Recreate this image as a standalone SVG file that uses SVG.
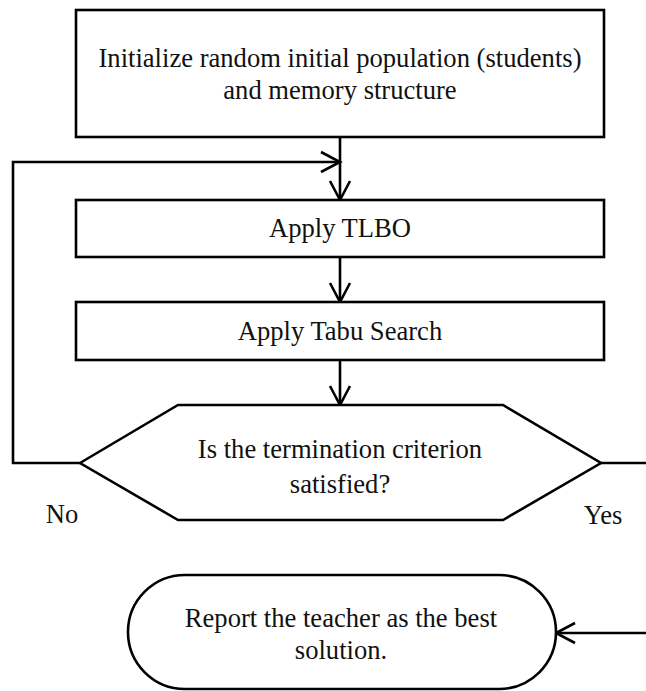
<svg xmlns="http://www.w3.org/2000/svg" width="646" height="691" viewBox="0 0 646 691">
  <style>
    .box { fill: #ffffff; stroke: #000000; stroke-width: 2.6; }
    .link { fill: none; stroke: #000000; stroke-width: 2.6; }
    .label { font-family: "Liberation Serif", "Times New Roman", serif; font-size: 26.6px; fill: #111111; text-anchor: middle; }
  </style>
  <defs>
    <marker id="open-arrow" viewBox="-21 -12 24 24" markerWidth="24" markerHeight="24" refX="0" refY="0" markerUnits="userSpaceOnUse" orient="auto">
      <path d="M -19,-10 L 0,0 L -19,10" fill="none" stroke="#000000" stroke-width="2.6"/>
    </marker>
  </defs>
  <rect width="646" height="691" fill="#ffffff"/>

  <g id="connectors">
    <!-- init -> TLBO -->
    <path class="link" d="M 340,137 L 340,200" marker-end="url(#open-arrow)"/>
    <!-- loop back from decision (No) -->
    <path class="link" d="M 80,463 L 13,463 L 13,162 L 340,162" marker-end="url(#open-arrow)"/>
    <!-- TLBO -> Tabu Search -->
    <path class="link" d="M 340,257 L 340,302" marker-end="url(#open-arrow)"/>
    <!-- Tabu Search -> decision -->
    <path class="link" d="M 340,360 L 340,405" marker-end="url(#open-arrow)"/>
    <!-- decision (Yes) -> report -->
    <path class="link" d="M 601,463 L 652,463 L 652,633 L 556,633" marker-end="url(#open-arrow)"/>
  </g>

  <g id="init">
    <rect class="box" x="76" y="10" width="528" height="127"/>
    <text class="label" x="340" y="67">Initialize random initial population (students)</text>
    <text class="label" x="340" y="99">and memory structure</text>
  </g>

  <g id="tlbo">
    <rect class="box" x="76" y="200" width="528" height="57"/>
    <text class="label" x="340" y="237">Apply TLBO</text>
  </g>

  <g id="tabu">
    <rect class="box" x="76" y="302" width="528" height="58"/>
    <text class="label" x="340" y="340">Apply Tabu Search</text>
  </g>

  <g id="decision">
    <polygon class="box" points="80,463 178,405 503,405 601,463 503,520 178,520"/>
    <text class="label" x="340" y="458">Is the termination criterion</text>
    <text class="label" x="340" y="493">satisfied?</text>
  </g>

  <g id="branch-labels">
    <text class="label" x="62" y="523">No</text>
    <text class="label" x="603" y="524">Yes</text>
  </g>

  <g id="report">
    <rect class="box" x="128" y="575" width="428" height="114" rx="57" ry="57"/>
    <text class="label" x="341" y="627">Report the teacher as the best</text>
    <text class="label" x="341" y="659">solution.</text>
  </g>
</svg>
